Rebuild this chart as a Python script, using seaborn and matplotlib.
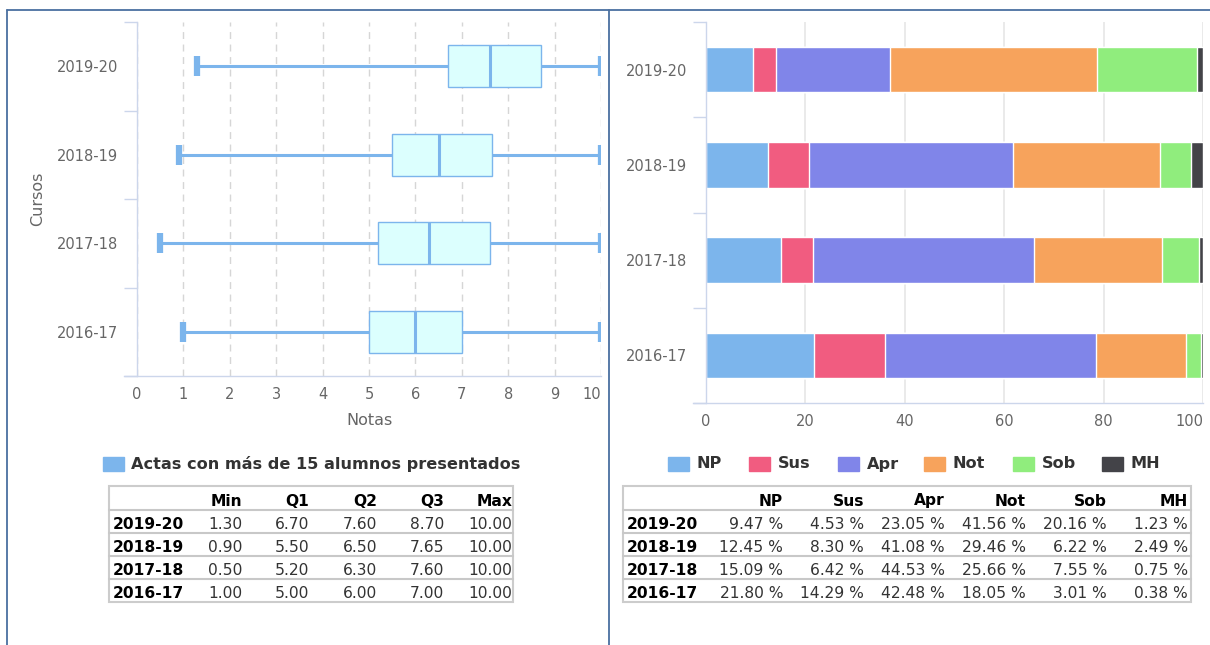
import matplotlib
matplotlib.use('Agg')

import numpy as np
import pandas as pd
import matplotlib.pyplot as plt
import seaborn as sns
from matplotlib.patches import Rectangle
from matplotlib.lines import Line2D

# datos
cursos = ['2019-20', '2018-19', '2017-18', '2016-17']

nota_min = [1.30, 0.90, 0.50, 1.00]
nota_q1 = [6.70, 5.50, 5.20, 5.00]
nota_q2 = [7.60, 6.50, 6.30, 6.00]
nota_q3 = [8.70, 7.65, 7.60, 7.00]
nota_max = [10.00, 10.00, 10.00, 10.00]

categorias = ['NP', 'Sus', 'Apr', 'Not', 'Sob', 'MH']
pct_np = [9.47, 12.45, 15.09, 21.80]
pct_sus = [4.53, 8.30, 6.42, 14.29]
pct_apr = [23.05, 41.08, 44.53, 42.48]
pct_not = [41.56, 29.46, 25.66, 18.05]
pct_sob = [20.16, 6.22, 7.55, 3.01]
pct_mh = [1.23, 2.49, 0.75, 0.38]

colores = ['#7cb5ec', '#f15c80', '#8085e9', '#f7a35c', '#90ed7d', '#434348']
azul = '#7cb5ec'
eje = '#ccd6eb'
gris = '#666666'

sns.set_theme(style='white')
plt.rcParams['font.family'] = ['DejaVu Sans']

W, H = 1210, 645
fig = plt.figure(figsize=(W / 100, H / 100), dpi=100)


def ejes(l, t, r, b):
    return fig.add_axes([l / W, 1 - b / H, (r - l) / W, (b - t) / H])


def linea(x0, y0, x1, y1, **kw):
    fig.add_artist(Line2D([x0 / W, x1 / W], [1 - y0 / H, 1 - y1 / H], **kw))


# marcos
borde = '#4a6fa0'
linea(7, 9.5, W, 9.5, color=borde, lw=1.3)
linea(7, 9.5, 7, H, color=borde, lw=1.3)
linea(609, 9.5, 609, H, color=borde, lw=1.3)


def estilo_cat(ax):
    ax.set_ylim(3.5, -0.5)
    ax.set_yticks(range(len(cursos)))
    ax.set_yticklabels(cursos)
    ax.set_yticks(np.arange(-0.5, len(cursos), 1), minor=True)
    ax.tick_params(axis='y', which='major', length=0, pad=13.5, labelsize=10.5, labelcolor=gris)
    ax.tick_params(axis='y', which='minor', length=9.4, width=1, color=eje, direction='out', left=True)
    ax.tick_params(axis='x', length=0, pad=8, labelsize=10.5, labelcolor=gris)
    for s in ['top', 'right']:
        ax.spines[s].set_visible(False)
    for s in ['left', 'bottom']:
        ax.spines[s].set_color(eje)
        ax.spines[s].set_linewidth(1)


# 1. diagrama de cajas
ax1 = ejes(137, 22, 601, 376)
stats = [dict(label=c, whislo=a, q1=b, med=m, q3=d, whishi=e, fliers=[])
         for c, a, b, m, d, e in zip(cursos, nota_min, nota_q1, nota_q2, nota_q3, nota_max)]
ax1.bxp(stats, positions=range(len(cursos)), widths=0.48, capwidths=0.23,
        orientation='horizontal', patch_artist=True, showfliers=False,
        boxprops=dict(facecolor='#dcfffe', edgecolor=azul, linewidth=1),
        medianprops=dict(color=azul, linewidth=2.2, solid_capstyle='butt'),
        whiskerprops=dict(color=azul, linewidth=2.2, solid_capstyle='butt'),
        capprops=dict(color=azul, linewidth=4.5, solid_capstyle='butt'))
ax1.set_xlim(0, 10)
ax1.set_xticks(range(11))
estilo_cat(ax1)
ax1.set_axisbelow(True)
ax1.grid(axis='x', color='#d6d6d6', lw=1, ls=(0, (5, 4)))
ax1.grid(axis='y', visible=False)
ax1.spines['bottom'].set_bounds(-0.28, 10)
ax1.get_xticklabels()[-1].set_ha('right')
ax1.set_xlabel('Notas', fontsize=11.5, color=gris)
ax1.xaxis.set_label_coords(0.5, -0.105)
ax1.set_ylabel('Cursos', fontsize=11.5, color=gris)
ax1.yaxis.set_label_coords(-0.198, 0.5)

# 2. barras apiladas
df = pd.DataFrame({'Curso': cursos, 'NP': pct_np, 'Sus': pct_sus, 'Apr': pct_apr,
                   'Not': pct_not, 'Sob': pct_sob, 'MH': pct_mh})
acum = df[categorias].cumsum(axis=1)
ax2 = ejes(706, 22, 1203, 403)
for cat, col in reversed(list(zip(categorias, colores))):
    sns.barplot(x=acum[cat], y=df['Curso'], orient='h', color=col, saturation=1,
                width=0.48, edgecolor='white', linewidth=1, errorbar=None, ax=ax2)
ax2.set_xlim(0, 100)
ax2.set_xticks(range(0, 101, 20))
estilo_cat(ax2)
ax2.set_axisbelow(True)
ax2.grid(axis='x', color='#e6e6e6', lw=1.2)
ax2.grid(axis='y', visible=False)
ax2.spines['bottom'].set_bounds(-2.6, 100)
ax2.get_xticklabels()[-1].set_ha('right')
ax2.set_xlabel('')
ax2.set_ylabel('')

# leyendas
fig.add_artist(Rectangle((103 / W, 1 - 471 / H), 21 / W, 14 / H, color=azul, transform=fig.transFigure))
fig.text(131 / W, 1 - 464 / H, 'Actas con más de 15 alumnos presentados', fontsize=11.6,
         fontweight='bold', color='#333333', va='center')
leg_x = [668, 749, 838, 924, 1013, 1102]
for x, cat, col in zip(leg_x, categorias, colores):
    fig.add_artist(Rectangle((x / W, 1 - 471 / H), 21 / W, 14 / H, color=col, transform=fig.transFigure))
    fig.text((x + 29) / W, 1 - 464 / H, cat, fontsize=11.6, fontweight='bold', color='#333333', va='center')

# tablas
lineas_y = [486, 510, 533, 556, 579, 602]
base_y = [505.5, 529, 552, 575, 598]


def tabla(x0, x1, col_der, cabecera, filas, fmt):
    fig.add_artist(Rectangle((x0 / W, 1 - lineas_y[-1] / H), (x1 - x0) / W,
                             (lineas_y[-1] - lineas_y[0]) / H, fill=False,
                             edgecolor='#cccccc', lw=1.5, transform=fig.transFigure))
    for y in lineas_y[1:-1]:
        linea(x0, y, x1, y, color='#c8c8c8', lw=1.5)
    for x, h in zip(col_der, cabecera):
        fig.text(x / W, 1 - base_y[0] / H, h, fontsize=11.2, fontweight='bold',
                 color='black', ha='right', va='baseline')
    for y, curso, vals in zip(base_y[1:], cursos, filas):
        fig.text((x0 + 4) / W, 1 - y / H, curso, fontsize=11.2, fontweight='bold',
                 color='black', ha='left', va='baseline')
        for x, v in zip(col_der, vals):
            fig.text(x / W, 1 - y / H, fmt % v, fontsize=11.2, color='#333333',
                     ha='right', va='baseline')


filas_notas = list(zip(nota_min, nota_q1, nota_q2, nota_q3, nota_max))
tabla(109, 513, [242, 309, 377, 444, 512], ['Min', 'Q1', 'Q2', 'Q3', 'Max'], filas_notas, '%.2f')

filas_pct = df[categorias].values.tolist()
tabla(623, 1191, [783, 864, 945, 1026, 1107, 1188], categorias, filas_pct, '%.2f %%')

fig.savefig('out.png', dpi=100)
plt.close()
